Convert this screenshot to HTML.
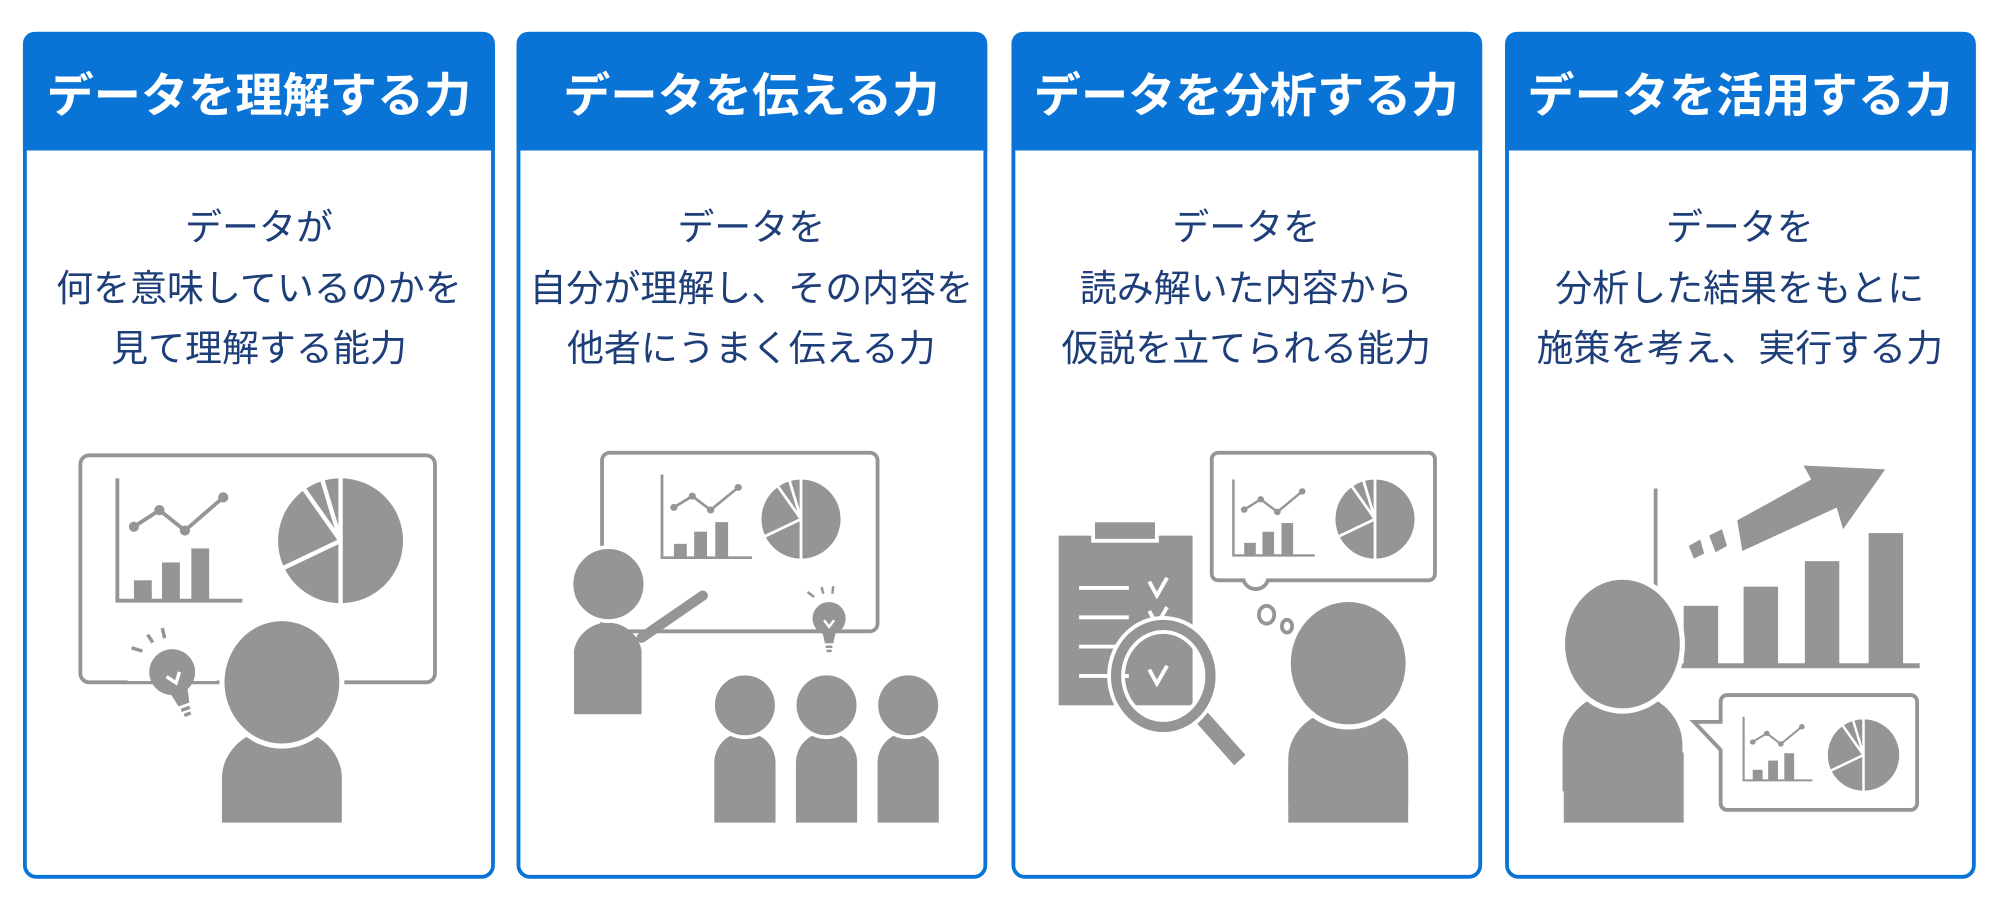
<!DOCTYPE html>
<html><head><meta charset="utf-8"><style>
html,body{margin:0;padding:0;background:#fff}
svg{display:block}
text{font-family:"Liberation Sans","Noto Sans CJK JP",sans-serif}
</style></head><body>
<svg width="2000" height="917" viewBox="0 0 1568 719" preserveAspectRatio="none" xmlns="http://www.w3.org/2000/svg">
<defs>
<g id="pie">
<circle r="1" fill="#959595"/>
<g stroke="#fff" stroke-width="0.07" fill="none">
<line x1="0" y1="-1.05" x2="0" y2="1.05"/>
<line x1="0" y1="0" x2="-1.05" y2="0.5"/>
<line x1="0" y1="0" x2="-0.6" y2="-0.85"/>
<line x1="0" y1="0" x2="-0.3" y2="-1"/>
</g>
</g>
<g id="chart">
<polyline points="0,0 0,96 98,96" fill="none" stroke="#959595" stroke-width="3"/>
<rect x="13" y="80" width="14" height="16" fill="#959595"/>
<rect x="35" y="66" width="14" height="30" fill="#959595"/>
<rect x="58" y="55" width="14" height="41" fill="#959595"/>
<polyline points="13,38 33,25 53,41 83,15" fill="none" stroke="#959595" stroke-width="3"/>
<circle cx="13" cy="38" r="4" fill="#959595"/><circle cx="33" cy="25" r="4" fill="#959595"/>
<circle cx="53" cy="41" r="4" fill="#959595"/><circle cx="83" cy="15" r="4" fill="#959595"/>
</g>
<g id="bulb">
<circle r="1" fill="#959595"/>
<path d="M-0.45,0.6 L-0.25,1.5 L0.25,1.5 L0.45,0.6" fill="#959595"/>
<path d="M-0.3,0.1 L0,0.5 L0.3,0.1" fill="none" stroke="#fff" stroke-width="0.15"/>
<g stroke="#959595" stroke-width="0.15">
<line x1="-0.2" y1="1.7" x2="0.2" y2="1.7"/><line x1="-0.15" y1="1.95" x2="0.15" y2="1.95"/>
<line x1="-0.9" y1="-1.3" x2="-1.3" y2="-1.6"/><line x1="-0.35" y1="-1.5" x2="-0.45" y2="-1.9"/><line x1="0.2" y1="-1.5" x2="0.25" y2="-1.95"/>
</g>
</g>
<g id="person">
<path d="M-47,110 L-47,75 A47,40 0 0 1 47,75 L47,110 Z" fill="#959595"/>
<ellipse cx="0" cy="0" rx="47" ry="50" fill="#959595" stroke="#fff" stroke-width="4"/>
</g>
</defs>

<g fill="#fff" stroke="#0a74d6" stroke-width="3">
<rect x="19.5" y="26.5" width="367" height="661" rx="9"/>
<rect x="406.5" y="26.5" width="366" height="661" rx="9"/>
<rect x="794.5" y="26.5" width="366" height="661" rx="9"/>
<rect x="1181.5" y="26.5" width="366" height="661" rx="9"/>
</g>
<g fill="#0a74d6">
<path d="M18,118 V34 A9,9 0 0 1 27,25 H379 A9,9 0 0 1 388,34 V118 Z"/>
<path d="M405,118 V34 A9,9 0 0 1 414,25 H765 A9,9 0 0 1 774,34 V118 Z"/>
<path d="M793,118 V34 A9,9 0 0 1 802,25 H1153 A9,9 0 0 1 1162,34 V118 Z"/>
<path d="M1180,118 V34 A9,9 0 0 1 1189,25 H1540 A9,9 0 0 1 1549,34 V118 Z"/>
</g>
<g fill="#fff" font-size="37" font-weight="bold" text-anchor="middle">
<text x="203" y="88">データを理解する力</text>
<text x="589" y="88">データを伝える力</text>
<text x="977" y="88">データを分析する力</text>
<text x="1364" y="88">データを活用する力</text>
</g>
<g fill="#1d3e78" font-size="29" text-anchor="middle">
<text x="203" y="188">データが</text><text x="203" y="236">何を意味しているのかを</text><text x="203" y="283">見て理解する能力</text>
<text x="589" y="188">データを</text><text x="589" y="236">自分が理解し、その内容を</text><text x="589" y="283">他者にうまく伝える力</text>
<text x="977" y="188">データを</text><text x="977" y="236">読み解いた内容から</text><text x="977" y="283">仮説を立てられる能力</text>
<text x="1364" y="188">データを</text><text x="1364" y="236">分析した結果をもとに</text><text x="1364" y="283">施策を考え、実行する力</text>
</g>

<!-- panel 1 -->
<rect x="63" y="357" width="278" height="178" rx="7" fill="none" stroke="#959595" stroke-width="3"/>
<use href="#chart" transform="translate(92,375)"/>
<use href="#pie" transform="translate(267,424) scale(49)"/>
<rect x="100" y="520" width="70" height="14" fill="#fff"/>
<use href="#bulb" transform="translate(135,527) scale(18) rotate(-20)"/>
<use href="#person" transform="translate(221,535)"/>

<!-- panel 2 -->
<rect x="472" y="355" width="216" height="140" rx="6" fill="none" stroke="#959595" stroke-width="3"/>
<use href="#chart" transform="translate(519,372) scale(0.72,0.68)"/>
<use href="#pie" transform="translate(628,407) scale(31)"/>
<use href="#bulb" transform="translate(650,485) scale(13)"/>
<line x1="503" y1="500" x2="551" y2="467" stroke="#959595" stroke-width="8" stroke-linecap="round"/>
<path d="M450,560 V510 A27,27 0 0 1 503,510 V560 Z" fill="#959595"/>
<circle cx="477" cy="458" r="29" fill="#959595" stroke="#fff" stroke-width="3"/>
<g fill="#959595">
<path d="M560,645 V598 A24,24 0 0 1 608,598 V645 Z"/><circle cx="584" cy="553" r="25" stroke="#fff" stroke-width="3"/>
<path d="M624,645 V598 A24,24 0 0 1 672,598 V645 Z"/><circle cx="648" cy="553" r="25" stroke="#fff" stroke-width="3"/>
<path d="M688,645 V598 A24,24 0 0 1 736,598 V645 Z"/><circle cx="712" cy="553" r="25" stroke="#fff" stroke-width="3"/>
</g>

<!-- panel 3 -->
<rect x="830" y="420" width="105" height="133" fill="#959595"/>
<rect x="857" y="408" width="50" height="16" fill="#959595" stroke="#fff" stroke-width="3"/>
<g stroke="#fff" stroke-width="3" fill="none">
<line x1="846" y1="461" x2="885" y2="461"/><line x1="846" y1="484" x2="885" y2="484"/>
<line x1="846" y1="507" x2="885" y2="507"/><line x1="846" y1="530" x2="885" y2="530"/>
<polyline points="901,456 907,467 915,453"/><polyline points="901,479 907,490 915,476"/><polyline points="901,525 907,536 915,522"/>
</g>
<line x1="940" y1="560" x2="972" y2="596" stroke="#959595" stroke-width="12"/>
<ellipse cx="912" cy="530" rx="37" ry="40" fill="none" stroke="#fff" stroke-width="14"/>
<ellipse cx="912" cy="530" rx="37" ry="40" fill="none" stroke="#959595" stroke-width="8"/>
<path d="M955,355 H1120 A5,5 0 0 1 1125,360 V450 A5,5 0 0 1 1120,455 H994 A10,10 0 0 1 975,455 H955 A5,5 0 0 1 950,450 V360 A5,5 0 0 1 955,355 Z" fill="none" stroke="#959595" stroke-width="3"/>
<ellipse cx="993" cy="482" rx="6" ry="7" fill="none" stroke="#959595" stroke-width="3"/>
<ellipse cx="1009" cy="491" rx="4" ry="5" fill="none" stroke="#959595" stroke-width="3"/>
<use href="#chart" transform="translate(967,376) scale(0.65,0.62)"/>
<use href="#pie" transform="translate(1078,407) scale(31)"/>
<rect x="1010" y="600" width="94" height="45" fill="#959595"/>
<use href="#person" transform="translate(1057,520)"/>

<!-- panel 4 -->
<line x1="1298" y1="383" x2="1298" y2="475" stroke="#959595" stroke-width="3"/>
<line x1="1318" y1="522" x2="1505" y2="522" stroke="#959595" stroke-width="4"/>
<g fill="#959595">
<rect x="1320" y="475" width="27" height="47"/><rect x="1367" y="460" width="27" height="62"/>
<rect x="1415" y="440" width="27" height="82"/><rect x="1465" y="418" width="27" height="104"/>
<polygon points="1362,408 1420,376 1414,365 1478,368 1445,415 1440,398 1366,432"/>
<polygon points="1340,420 1350,415 1354,428 1345,433"/>
<polygon points="1324,428 1333,423 1336,434 1328,438"/>
</g>
<path d="M1354,545 H1498 A5,5 0 0 1 1503,550 V630 A5,5 0 0 1 1498,635 H1354 A5,5 0 0 1 1349,630 V588 L1328,566 L1349,566 V550 A5,5 0 0 1 1354,545 Z" fill="none" stroke="#959595" stroke-width="3"/>
<use href="#chart" transform="translate(1367,562) scale(0.55,0.52)"/>
<use href="#pie" transform="translate(1461,592) scale(28)"/>
<rect x="1226" y="590" width="94" height="55" fill="#959595"/>
<use href="#person" transform="translate(1272,505) scale(1,1.05)"/>
</svg>
</body></html>
